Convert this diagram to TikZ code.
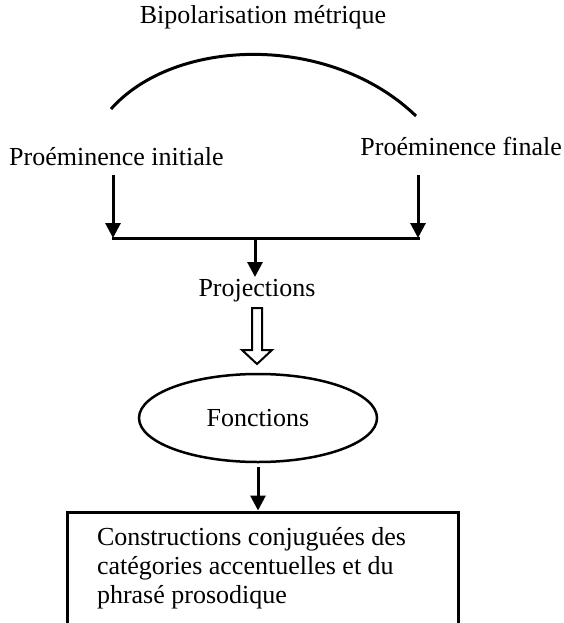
\documentclass[tikz,border=0pt]{standalone}
\usepackage{fontspec}
\setmainfont{Liberation Serif}
\usetikzlibrary{arrows.meta,shapes.geometric}
\begin{document}
\begin{tikzpicture}[x=1pt,y=-1pt,
  lbl/.style={font=\fontsize{26}{30}\selectfont, inner sep=0pt},
  link/.style={line width=3pt, -{Triangle[length=15pt,width=15pt]}},
  wire/.style={line width=3pt}]
  \useasboundingbox (0,0) rectangle (564,623);

  % labels of the metric bipolarisation
  \node[lbl] (bip) at (263,17) {Bipolarisation métrique};
  \node[lbl, anchor=west] (init) at (9,157) {Proéminence initiale};
  \node[lbl, anchor=east] (fin) at (562,146) {Proéminence finale};

  % arc joining the two prominences
  \coordinate (arcL) at (111,109);
  \coordinate (arcR) at (416,116);
  \draw[wire] (arcL) .. controls (175,37) and (330,33) .. (arcR);

  % two prominences converge on the bar
  \coordinate (topL) at (113,175);
  \coordinate (topR) at (418,175);
  \coordinate (barL) at (113,238);
  \coordinate (barR) at (418,238);
  \coordinate (barM) at (255,238);
  \draw[link] (topL) -- (barL);
  \draw[link] (topR) -- (barR);
  \draw[wire, line cap=rect] (barL) -- (barR);

  \node[lbl] (proj) at (257,291) {Projections};
  \draw[link] (barM) -- (barM |- 0,277);

  % hollow arrow towards the functions
  \draw[line width=2pt, line join=miter]
    (252,308) -- (262,308) -- (262,350) -- (272,350) -- (257,364)
    -- (242,350) -- (252,350) -- cycle;

  \node[ellipse, draw, line width=2.5pt, minimum width=238pt,
        minimum height=88pt, lbl] (fonc) at (258,418) {Fonctions};

  % final box, its lower edge running past the page
  \node[draw, line width=3pt, minimum width=391pt, minimum height=113pt,
        text width=331pt, align=flush left, inner xsep=30pt, inner ysep=0pt,
        font=\fontsize{26}{29}\selectfont] (cons) at (262.5,568.5)
    {Constructions conjuguées des\\catégories accentuelles et du\\phrasé prosodique};

  \coordinate (foncB) at (258,467);
  \draw[link] (foncB) -- (foncB |- cons.north);
\end{tikzpicture}
\end{document}
